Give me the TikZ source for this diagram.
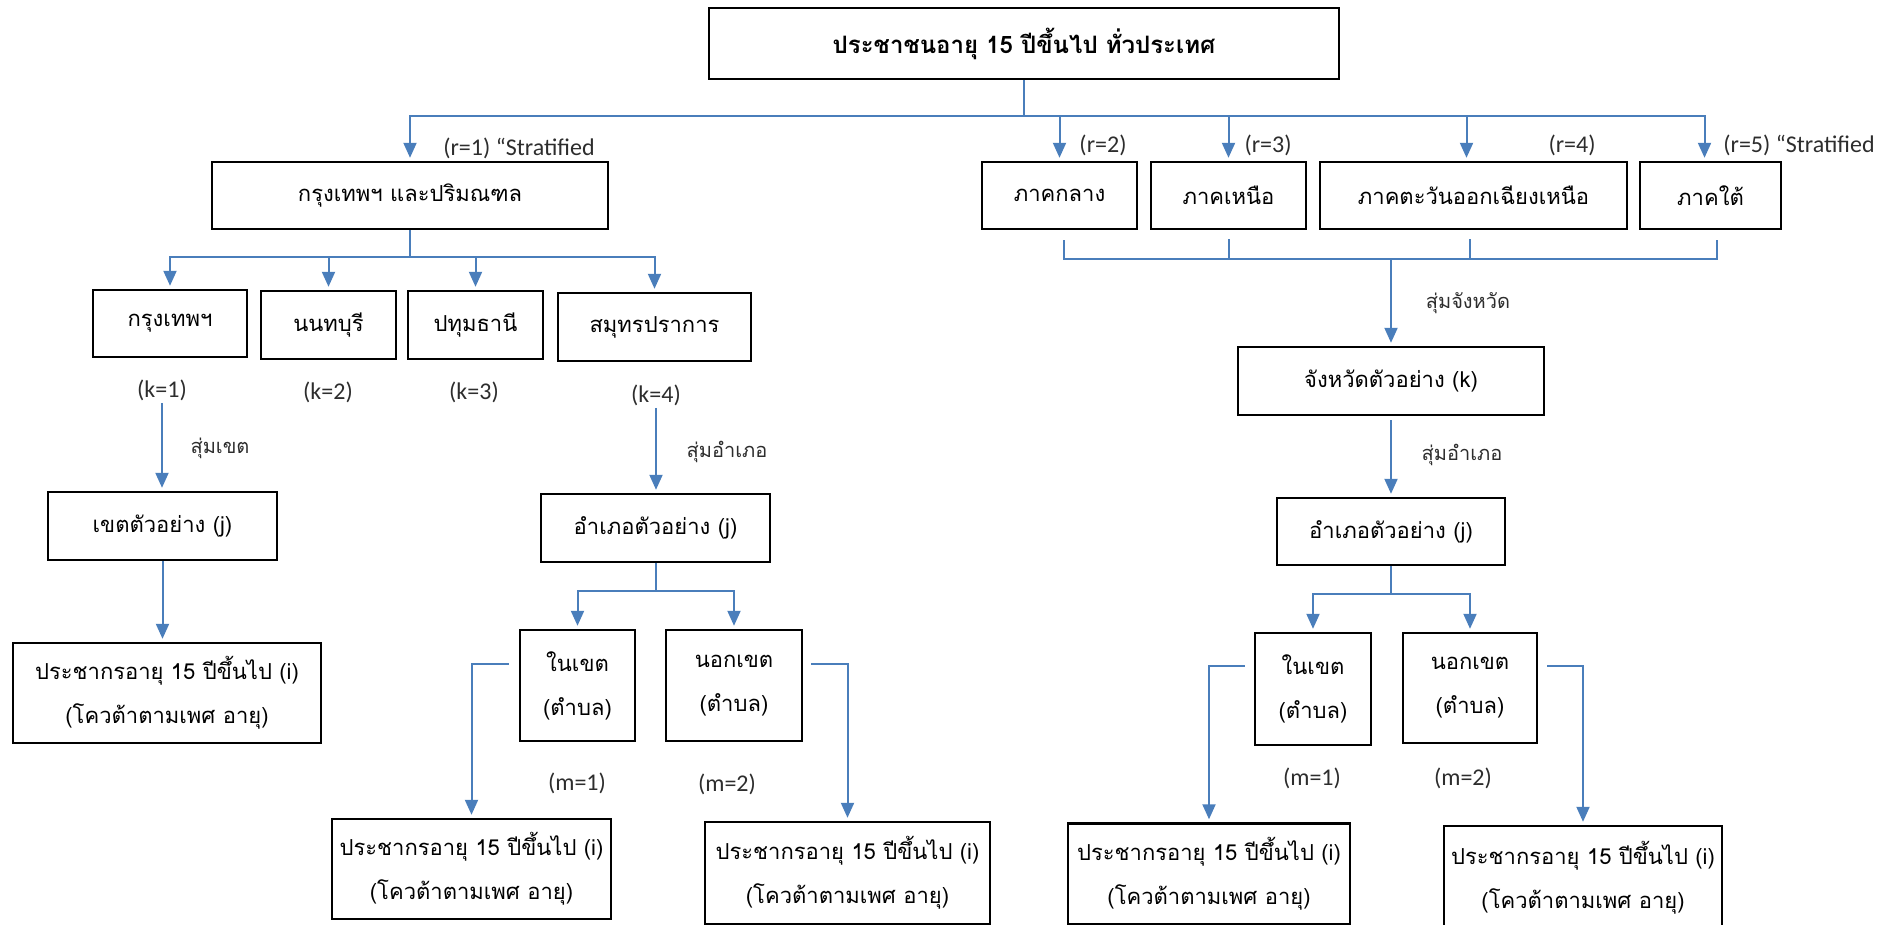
\documentclass[tikz,border=0pt]{standalone}
\usepackage{fontspec}
\setmainfont[Script=Thai]{Loma}
\newfontfamily\latinfont{Carlito}
\usetikzlibrary{arrows.meta,positioning,calc}
\definecolor{linkblue}{RGB}{74,126,187}
\definecolor{labelgray}{RGB}{45,45,45}

\begin{document}
\begin{tikzpicture}[x=0.5pt, y=-0.5pt,
    block/.style={draw, line width=1.2pt, align=center, inner sep=2pt, font=\fontsize{11}{22}\selectfont},
    lbl/.style={text=labelgray, inner sep=1pt, font=\latinfont\fontsize{12}{14}\selectfont},
    note/.style={text=labelgray, inner sep=1pt, font=\fontsize{10}{12}\selectfont},
    link/.style={draw=linkblue, line width=1pt},
    arrow/.style={linkblue, line width=1pt, shorten >=1.5pt, -{Triangle[length=7.5pt,width=6.5pt]}}]

        \useasboundingbox (0,0) rectangle (1894,925);

        % whole country
        \node[block, font=\bfseries\fontsize{12}{14}\selectfont, minimum width=315pt, minimum height=35.5pt] (country) at (1024,43.5) {ประชาชนอายุ 15 ปีขึ้นไป ทั่วประเทศ};

        % regions (strata)
        \node[block, minimum width=198pt, minimum height=33.5pt] (bkkmetro) at (410,195.5) {กรุงเทพฯ และปริมณฑล};
        \node[block, minimum width=77.5pt, minimum height=33.5pt] (regcentral) at (1059.5,195.5) {ภาคกลาง};
        \node[block, minimum width=77.5pt, minimum height=33.5pt] (regnorth) at (1228.5,195.5) {ภาคเหนือ};
        \node[block, minimum width=153.5pt, minimum height=33.5pt] (regnortheast) at (1473.5,195.5) {ภาคตะวันออกเฉียงเหนือ};
        \node[block, minimum width=70.5pt, minimum height=33.5pt] (regsouth) at (1710.5,195.5) {ภาคใต้};

        \node[lbl] (r1) at (519,148) {(r=1) “Stratified};
        \node[lbl] (r2) at (1103,145) {(r=2)};
        \node[lbl] (r3) at (1268,145) {(r=3)};
        \node[lbl] (r4) at (1572,145) {(r=4)};
        \node[lbl] (r5) at (1799,145) {(r=5) “Stratified};

        % provinces of Bangkok metro
        \node[block, minimum width=77pt, minimum height=33.5pt] (bangkok) at (170,323.5) {กรุงเทพฯ};
        \node[block, minimum width=67.5pt, minimum height=34pt] (nonthaburi) at (328.5,325) {นนทบุรี};
        \node[block, minimum width=67.5pt, minimum height=34pt] (pathumthani) at (475.5,325) {ปทุมธานี};
        \node[block, minimum width=96.5pt, minimum height=34pt] (samutprakan) at (654.5,327) {สมุทรปราการ};

        \node[lbl] (k1) at (162,390) {(k=1)};
        \node[lbl] (k2) at (328,392) {(k=2)};
        \node[lbl] (k3) at (474,392) {(k=3)};
        \node[lbl] (k4) at (656,395) {(k=4)};

        % Bangkok branch
        \node[block, minimum width=114.5pt, minimum height=34pt] (khetsample) at (162.5,526) {เขตตัวอย่าง (j)};
        \node[block, minimum width=154pt, minimum height=50pt] (popA) at (167,693) {ประชากรอายุ 15 ปีขึ้นไป (i)\\(โควต้าตามเพศ อายุ)};
        \node[note] (drawkhet) at (220,448) {สุ่มเขต};

        % Samut Prakan branch
        \node[block, minimum width=114.5pt, minimum height=34pt] (amphoeA) at (655.5,528) {อำเภอตัวอย่าง (j)};
        \node[block, minimum width=57.5pt, minimum height=55.5pt] (inA) at (577.5,685.5) {ในเขต\\(ตำบล)};
        \node[block, minimum width=68pt, minimum height=55.5pt] (outA) at (734,685.5) {นอกเขต\\(ตำบล)};
        \node[block, minimum width=139.5pt, minimum height=50pt] (popB) at (471.5,869) {ประชากรอายุ 15 ปีขึ้นไป (i)\\(โควต้าตามเพศ อายุ)};
        \node[block, minimum width=142.5pt, minimum height=51pt] (popC) at (847.5,873) {ประชากรอายุ 15 ปีขึ้นไป (i)\\(โควต้าตามเพศ อายุ)};
        \node[note] (drawamphoeA) at (727,452) {สุ่มอำเภอ};
        \node[lbl] (m1A) at (577,783) {(m=1)};
        \node[lbl] (m2A) at (727,784) {(m=2)};

        % other regions branch
        \node[block, minimum width=153pt, minimum height=34pt] (changwat) at (1391,381) {จังหวัดตัวอย่าง (k)};
        \node[block, minimum width=114pt, minimum height=33.5pt] (amphoeB) at (1391,531.5) {อำเภอตัวอย่าง (j)};
        \node[block, minimum width=58pt, minimum height=56pt] (inB) at (1313,689) {ในเขต\\(ตำบล)};
        \node[block, minimum width=67pt, minimum height=55pt] (outB) at (1470,688) {นอกเขต\\(ตำบล)};
        \node[block, minimum width=141pt, minimum height=50.5pt] (popD) at (1209,874) {ประชากรอายุ 15 ปีขึ้นไป (i)\\(โควต้าตามเพศ อายุ)};
        \node[block, minimum width=139pt, minimum height=52pt] (popE) at (1583,878) {ประชากรอายุ 15 ปีขึ้นไป (i)\\(โควต้าตามเพศ อายุ)};
        \node[note] (drawchangwat) at (1468,303) {สุ่มจังหวัด};
        \node[note] (drawamphoeB) at (1462,455) {สุ่มอำเภอ};
        \node[lbl] (m1B) at (1312,778) {(m=1)};
        \node[lbl] (m2B) at (1463,778) {(m=2)};

        % bus lines
        \coordinate (rbus) at (0,116);
        \coordinate (kbus) at (0,257);
        \coordinate (sbus) at (0,259);
        \coordinate (mbusA) at (0,591);
        \coordinate (mbusB) at (0,594);

        % Arrows
        \draw[link] (country.south) -- (country.south |- rbus);
        \draw[arrow] (country.south |- rbus) -| (bkkmetro.north);
        \draw[arrow] (country.south |- rbus) -| ([xshift=-3pt]regsouth.north);
        \draw[arrow] (regcentral.north |- rbus) -- (regcentral.north);
        \draw[arrow] (regnorth.north |- rbus) -- (regnorth.north);
        \draw[arrow] ([xshift=-3.5pt]regnortheast.north |- rbus) -- ([xshift=-3.5pt]regnortheast.north);

        \draw[link] (bkkmetro.south) -- (bkkmetro.south |- kbus);
        \draw[arrow] (bkkmetro.south |- kbus) -| (bangkok.north);
        \draw[arrow] (bkkmetro.south |- kbus) -| (samutprakan.north);
        \draw[arrow] (nonthaburi.north |- kbus) -- (nonthaburi.north);
        \draw[arrow] (pathumthani.north |- kbus) -- (pathumthani.north);

        \draw[arrow] (k1.south) -- (k1.south |- khetsample.north);
        \draw[arrow] (khetsample.south) -- (khetsample.south |- popA.north);

        \draw[arrow] (k4.south) -- (k4.south |- amphoeA.north);
        \draw[link] (amphoeA.south) -- (amphoeA.south |- mbusA);
        \draw[arrow] (amphoeA.south |- mbusA) -| (inA.north);
        \draw[arrow] (amphoeA.south |- mbusA) -| (outA.north);
        \draw[arrow] ([xshift=-5pt,yshift=11pt]inA.west) -| (popB.north);
        \draw[arrow] ([xshift=4pt,yshift=11pt]outA.east) -| (popC.north);

        \draw[link] ([xshift=2pt,yshift=-5pt]regcentral.south) -- ([xshift=2pt]regcentral.south |- sbus) -- ([xshift=3pt]regsouth.south |- sbus) -- ([xshift=3pt,yshift=-5pt]regsouth.south);
        \draw[link] ([yshift=-4.5pt]regnorth.south) -- (regnorth.south |- sbus);
        \draw[link] ([xshift=-2pt,yshift=-4.5pt]regnortheast.south) -- ([xshift=-2pt]regnortheast.south |- sbus);
        \draw[arrow] (changwat.north |- sbus) -- (changwat.north);
        \draw[arrow] ([yshift=-2pt]changwat.south) -- (amphoeB.north);
        \draw[link] (amphoeB.south) -- (amphoeB.south |- mbusB);
        \draw[arrow] (amphoeB.south |- mbusB) -| (inB.north);
        \draw[arrow] (amphoeB.south |- mbusB) -| (outB.north);
        \draw[arrow] ([xshift=-4.5pt,yshift=11.5pt]inB.west) -| (popD.north);
        \draw[arrow] ([xshift=4.5pt,yshift=11pt]outB.east) -| (popE.north);

    \end{tikzpicture}
\end{document}
